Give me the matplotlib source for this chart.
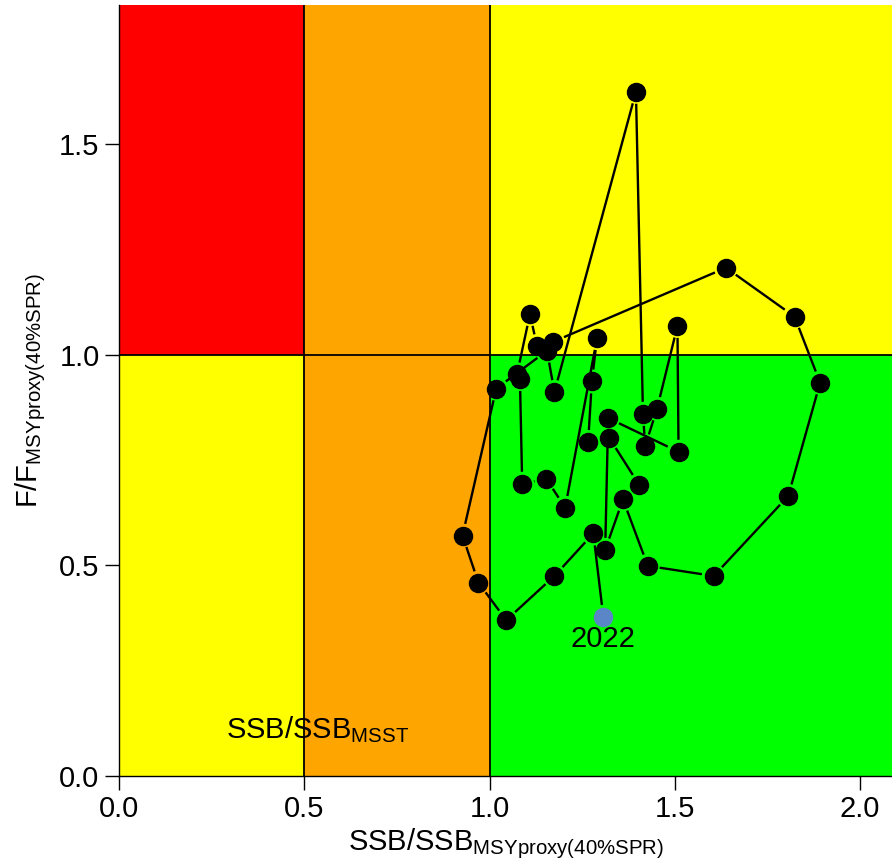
import numpy as np
import matplotlib
matplotlib.use("Agg")
import matplotlib.pyplot as plt

plt.rcParams['font.family'] = ['Liberation Sans', 'DejaVu Sans']
plt.rcParams['mathtext.fontset'] = 'custom'
plt.rcParams['mathtext.rm'] = 'Liberation Sans'
plt.rcParams['mathtext.it'] = 'Liberation Sans'

# ---- data ----
years = list(range(1986, 2023))
ssb_ratio = [1.404, 1.323, 1.266, 1.276, 1.290, 1.204, 1.153, 1.088, 1.082, 1.074,
             1.109, 1.128, 1.171, 1.638, 1.823, 1.892, 1.806, 1.605, 1.427, 1.360,
             1.312, 1.320, 1.510, 1.507, 1.452, 1.420, 1.414, 1.395, 1.175, 1.155,
             1.018, 0.927, 0.970, 1.045, 1.175, 1.280, 1.307]
f_ratio = [0.691, 0.803, 0.793, 0.937, 1.040, 0.637, 0.706, 0.694, 0.943, 0.954,
           1.097, 1.021, 1.031, 1.207, 1.091, 0.934, 0.665, 0.475, 0.499, 0.657,
           0.537, 0.850, 0.770, 1.069, 0.872, 0.784, 0.860, 1.625, 0.912, 1.010,
           0.920, 0.571, 0.459, 0.370, 0.475, 0.576, 0.378]

x_ticks = [0.0, 0.5, 1.0, 1.5, 2.0]
y_ticks = [0.0, 0.5, 1.0, 1.5]
x_max, y_max = 2.086, 1.831

fig = plt.figure(figsize=(8.92, 8.65), dpi=100)
ax = fig.add_axes([119/892, (865-776)/865, (892-119)/892, (776-5)/865])
ax.set_xlim(0, x_max)
ax.set_ylim(0, y_max)

# background zones
ax.axvspan(0, 0.5, ymin=0, ymax=1.0/y_max, color='#FFFF00', lw=0, zorder=0)
ax.axvspan(0, 0.5, ymin=1.0/y_max, ymax=1, color='#FF0000', lw=0, zorder=0)
ax.axvspan(0.5, 1.0, color='#FFA500', lw=0, zorder=0)
ax.axvspan(1.0, x_max, ymin=0, ymax=1.0/y_max, color='#00FF00', lw=0, zorder=0)
ax.axvspan(1.0, x_max, ymin=1.0/y_max, ymax=1, color='#FFFF00', lw=0, zorder=0)
ax.axvline(0.5, color='black', lw=1.3, zorder=1)
ax.axvline(1.0, color='black', lw=1.3, zorder=1)
ax.axhline(1.0, color='black', lw=1.3, zorder=1)

# path with gaps around points (R type="b")
xs = np.array(ssb_ratio)
ys = np.array(f_ratio)
disp = ax.transData.transform(np.column_stack([xs, ys]))
gap = 12.0
inv = ax.transData.inverted()
for i in range(len(xs) - 1):
    p0, p1 = disp[i], disp[i + 1]
    d = p1 - p0
    L = np.hypot(*d)
    if L <= 2 * gap:
        continue
    u = d / L
    a = inv.transform(p0 + u * gap)
    b = inv.transform(p1 - u * gap)
    ax.plot([a[0], b[0]], [a[1], b[1]], color='black', lw=1.7,
            solid_capstyle='butt', zorder=2)

ax.plot(xs[:-1], ys[:-1], 'o', color='black', ms=13, zorder=3)
ax.plot(xs[-1:], ys[-1:], 'o', color='#5a86c8', ms=13, zorder=3)
ax.text(xs[-1], ys[-1] - 0.072, str(years[-1]), ha='center', va='baseline',
        fontsize=21, zorder=4)

ax.text(0.29, 0.09, r'SSB/SSB$_{\mathrm{MSST}}$', ha='left', va='baseline',
        fontsize=21, zorder=4)

ax.set_xticks(x_ticks)
ax.set_xticklabels([f'{v:.1f}' for v in x_ticks])
ax.set_yticks(y_ticks)
ax.set_yticklabels([f'{v:.1f}' for v in y_ticks])
ax.tick_params(direction='out', length=10, width=1, labelsize=21, pad=4)
for s in ['top', 'right']:
    ax.spines[s].set_visible(False)
for s in ['left', 'bottom']:
    ax.spines[s].set_linewidth(1.0)

ax.set_xlabel(r'SSB/SSB$_{\mathrm{MSYproxy(40\%SPR)}}$', fontsize=21, labelpad=2)
ax.set_ylabel(r'F/F$_{\mathrm{MSYproxy(40\%SPR)}}$', fontsize=21, labelpad=8)

fig.savefig('out.png', dpi=100)
